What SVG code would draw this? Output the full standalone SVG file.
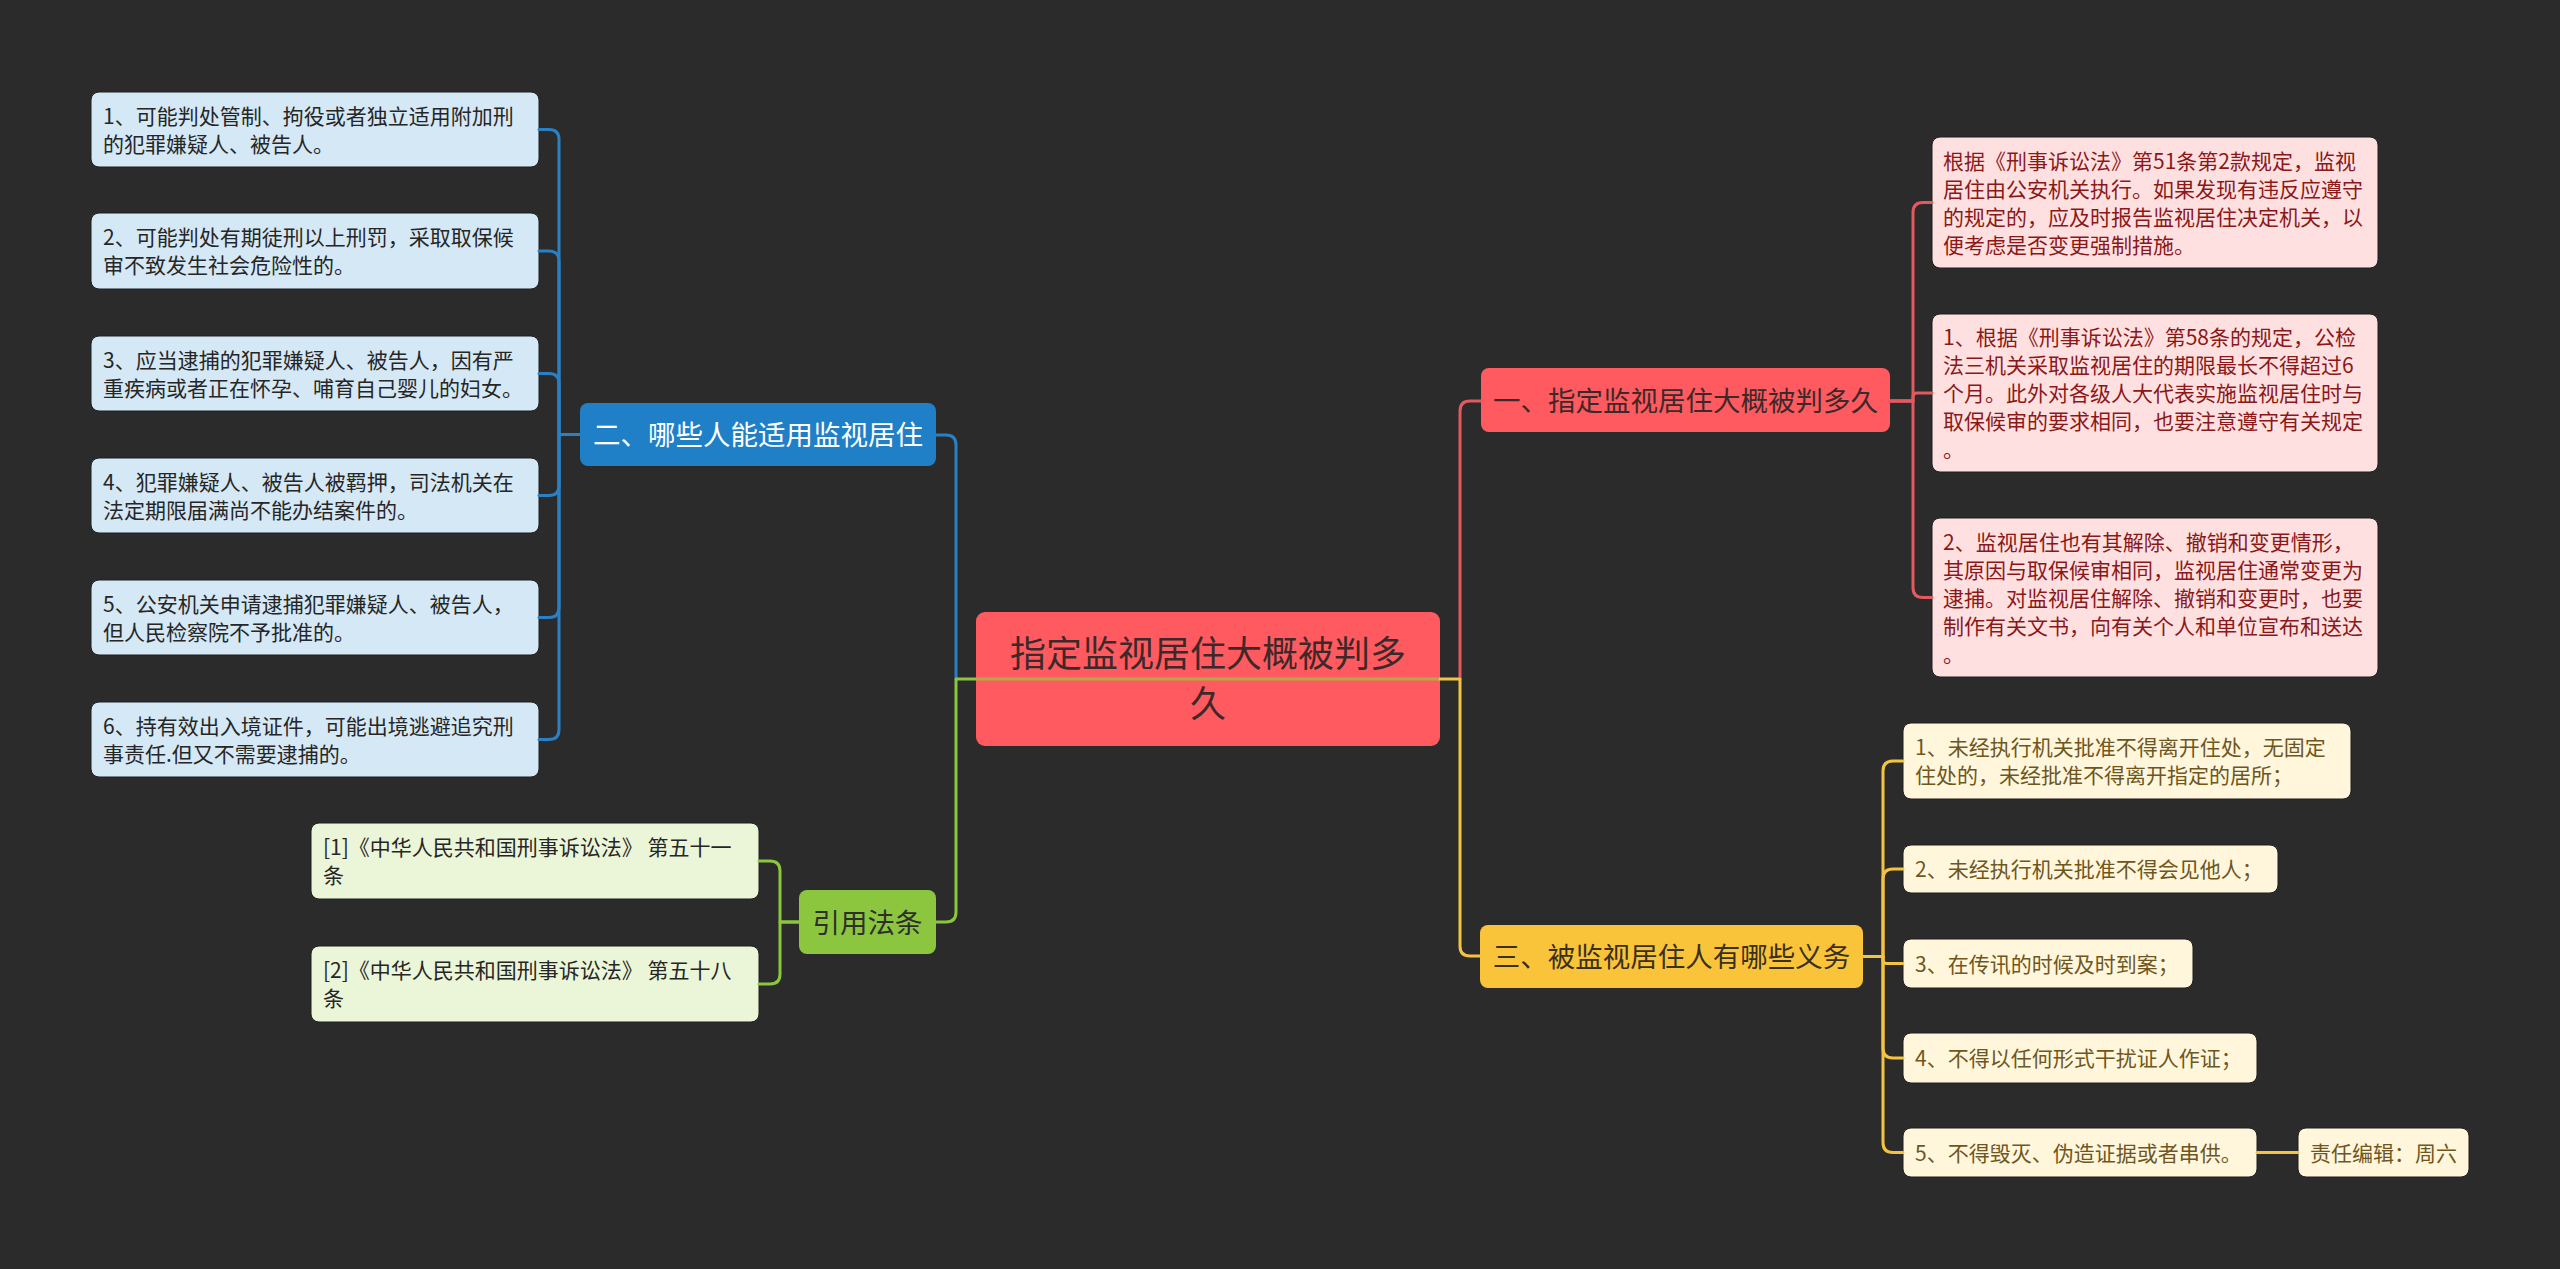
<svg xmlns="http://www.w3.org/2000/svg" width="2560" height="1269" viewBox="0 0 2560 1269">
<style>
text{font-family:"Noto Sans CJK SC","Noto Sans",sans-serif;}
.bg{fill:#2B2B2B;}
.c{fill:none;stroke-width:3;stroke-linecap:round;stroke-linejoin:round;}
.cb{stroke:#2A80C4;}
.cr{stroke:#E2595E;}
.cy{stroke:#F3C343;}
.cg{stroke:#8CC63F;}
.lf{stroke:#1E1E1E;stroke-width:1;}
.lb{fill:#D5E8F5;}
.lr{fill:#FFE0E1;}
.ly{fill:#FFF6DC;}
.lg{fill:#EBF5D8;}
.t{font-size:21px;}
.tb{fill:#262626;}
.tr{fill:#8B1818;}
.ty{fill:#6E561E;}
.tg{fill:#262626;}
.nt{font-size:27.5px;text-anchor:middle;}
</style>
<rect class="bg" x="0" y="0" width="2560" height="1269"/>

<g id="center">
<rect x="976" y="612" width="464" height="134" rx="9" fill="#FF5A5F"/>
<text x="1208" y="667" font-size="36" text-anchor="middle" fill="#3D2929"><tspan x="1208" y="667">指定监视居住大概被判多</tspan><tspan x="1208" y="717">久</tspan></text>
</g>

<g id="node-blue">
<rect x="580" y="403" width="356" height="63" rx="8" fill="#1F80C7"/>
<text class="nt" x="758" y="445" fill="#FFFFFF">二、哪些人能适用监视居住</text>
</g>
<g id="leaf-b1"><rect class="lb lf" x="91" y="92" width="448" height="75" rx="8"/><text class="t tb"><tspan x="103" y="123.5">1、可能判处管制、拘役或者独立适用附加刑</tspan><tspan x="103" y="151.5">的犯罪嫌疑人、被告人。</tspan></text></g>
<g id="leaf-b2"><rect class="lb lf" x="91" y="213" width="448" height="76" rx="8"/><text class="t tb"><tspan x="103" y="245">2、可能判处有期徒刑以上刑罚，采取取保候</tspan><tspan x="103" y="273">审不致发生社会危险性的。</tspan></text></g>
<g id="leaf-b3"><rect class="lb lf" x="91" y="336" width="448" height="75" rx="8"/><text class="t tb"><tspan x="103" y="367.5">3、应当逮捕的犯罪嫌疑人、被告人，因有严</tspan><tspan x="103" y="395.5">重疾病或者正在怀孕、哺育自己婴儿的妇女。</tspan></text></g>
<g id="leaf-b4"><rect class="lb lf" x="91" y="458" width="448" height="75" rx="8"/><text class="t tb"><tspan x="103" y="489.5">4、犯罪嫌疑人、被告人被羁押，司法机关在</tspan><tspan x="103" y="517.5">法定期限届满尚不能办结案件的。</tspan></text></g>
<g id="leaf-b5"><rect class="lb lf" x="91" y="580" width="448" height="75" rx="8"/><text class="t tb"><tspan x="103" y="611.5">5、公安机关申请逮捕犯罪嫌疑人、被告人，</tspan><tspan x="103" y="639.5">但人民检察院不予批准的。</tspan></text></g>
<g id="leaf-b6"><rect class="lb lf" x="91" y="702" width="448" height="75" rx="8"/><text class="t tb"><tspan x="103" y="733.5">6、持有效出入境证件，可能出境逃避追究刑</tspan><tspan x="103" y="761.5">事责任.但又不需要逮捕的。</tspan></text></g>

<g id="node-green">
<rect x="799" y="890" width="137" height="64" rx="8" fill="#8CC63F"/>
<text class="nt" x="867.5" y="932.5" fill="#2E2E2E">引用法条</text>
</g>
<g id="leaf-g1"><rect class="lg lf" x="311" y="823" width="448" height="76" rx="8"/><text class="t tg"><tspan x="323" y="855">[1]《中华人民共和国刑事诉讼法》 第五十一</tspan><tspan x="323" y="883">条</tspan></text></g>
<g id="leaf-g2"><rect class="lg lf" x="311" y="946" width="448" height="76" rx="8"/><text class="t tg"><tspan x="323" y="978">[2]《中华人民共和国刑事诉讼法》 第五十八</tspan><tspan x="323" y="1006">条</tspan></text></g>

<g id="node-red">
<rect x="1481" y="368" width="409" height="64" rx="8" fill="#FF5A5F"/>
<text class="nt" x="1685.5" y="410.5" fill="#3D2929">一、指定监视居住大概被判多久</text>
</g>
<g id="leaf-r1"><rect class="lr lf" x="1932" y="137" width="446" height="131" rx="8"/><text class="t tr"><tspan x="1943" y="168.5">根据《刑事诉讼法》第51条第2款规定，监视</tspan><tspan x="1943" y="196.5">居住由公安机关执行。如果发现有违反应遵守</tspan><tspan x="1943" y="224.5">的规定的，应及时报告监视居住决定机关，以</tspan><tspan x="1943" y="252.5">便考虑是否变更强制措施。</tspan></text></g>
<g id="leaf-r2"><rect class="lr lf" x="1932" y="314" width="446" height="158" rx="8"/><text class="t tr"><tspan x="1943" y="345">1、根据《刑事诉讼法》第58条的规定，公检</tspan><tspan x="1943" y="373">法三机关采取监视居住的期限最长不得超过6</tspan><tspan x="1943" y="401">个月。此外对各级人大代表实施监视居住时与</tspan><tspan x="1943" y="429">取保候审的要求相同，也要注意遵守有关规定</tspan><tspan x="1943" y="457">。</tspan></text></g>
<g id="leaf-r3"><rect class="lr lf" x="1932" y="518" width="446" height="159" rx="8"/><text class="t tr"><tspan x="1943" y="549.5">2、监视居住也有其解除、撤销和变更情形，</tspan><tspan x="1943" y="577.5">其原因与取保候审相同，监视居住通常变更为</tspan><tspan x="1943" y="605.5">逮捕。对监视居住解除、撤销和变更时，也要</tspan><tspan x="1943" y="633.5">制作有关文书，向有关个人和单位宣布和送达</tspan><tspan x="1943" y="661.5">。</tspan></text></g>

<g id="node-yellow">
<rect x="1480" y="925" width="383" height="63" rx="8" fill="#F9C43A"/>
<text class="nt" x="1671.5" y="967" fill="#3A3020">三、被监视居住人有哪些义务</text>
</g>
<g id="leaf-y1"><rect class="ly lf" x="1903" y="723" width="448" height="76" rx="8"/><text class="t ty"><tspan x="1915" y="755">1、未经执行机关批准不得离开住处，无固定</tspan><tspan x="1915" y="783">住处的，未经批准不得离开指定的居所；</tspan></text></g>
<g id="leaf-y2"><rect class="ly lf" x="1903" y="845" width="375" height="48" rx="8"/><text class="t ty" x="1915" y="877">2、未经执行机关批准不得会见他人；</text></g>
<g id="leaf-y3"><rect class="ly lf" x="1903" y="939" width="290" height="49" rx="8"/><text class="t ty" x="1915" y="971.5">3、在传讯的时候及时到案；</text></g>
<g id="leaf-y4"><rect class="ly lf" x="1903" y="1033" width="354" height="50" rx="8"/><text class="t ty" x="1915" y="1066">4、不得以任何形式干扰证人作证；</text></g>
<g id="leaf-y5"><rect class="ly lf" x="1903" y="1128" width="354" height="49" rx="8"/><text class="t ty" x="1915" y="1160.5">5、不得毁灭、伪造证据或者串供。</text></g>
<g id="leaf-y6"><rect class="ly lf" x="2298" y="1128" width="171" height="49" rx="8"/><text class="t ty" x="2310" y="1160.5">责任编辑：周六</text></g>

<g id="connectors">
<path class="c cb" d="M956 679 V445 Q956 435 946 435 H936"/>
<path class="c cb" d="M580 434.5 H559 V139.5 Q559 129.5 549 129.5 H539"/>
<path class="c cb" d="M580 434.5 H559 V261 Q559 251 549 251 H539"/>
<path class="c cb" d="M580 434.5 H559 V383.5 Q559 373.5 549 373.5 H539"/>
<path class="c cb" d="M580 434.5 H559 V485.5 Q559 495.5 549 495.5 H539"/>
<path class="c cb" d="M580 434.5 H559 V607.5 Q559 617.5 549 617.5 H539"/>
<path class="c cb" d="M580 434.5 H559 V729.5 Q559 739.5 549 739.5 H539"/>

<path class="c cg" d="M976 679 H956 V912 Q956 922 946 922 H936"/>
<path class="c cg" d="M799 922 H780 V871 Q780 861 770 861 H759"/>
<path class="c cg" d="M799 922 H780 V974 Q780 984 770 984 H759"/>

<path d="M976 679 H1440" fill="none" stroke="#B4A946" stroke-width="3"/>

<path class="c cr" d="M1460 679 V411 Q1460 401 1470 401 H1481"/>
<path class="c cr" d="M1890 401 H1913 V212.5 Q1913 202.5 1923 202.5 H1932"/>
<path class="c cr" d="M1890 401 H1913 V397 Q1913 393 1917 393 H1932"/>
<path class="c cr" d="M1890 401 H1913 V587.5 Q1913 597.5 1923 597.5 H1932"/>

<path class="c cy" d="M1440 679 H1460 V946 Q1460 956 1470 956 H1480"/>
<path class="c cy" d="M1863 956.5 H1883 V771 Q1883 761 1893 761 H1903"/>
<path class="c cy" d="M1863 956.5 H1883 V879 Q1883 869 1893 869 H1903"/>
<path class="c cy" d="M1863 956.5 H1883 V959.5 Q1883 963.5 1887 963.5 H1903"/>
<path class="c cy" d="M1863 956.5 H1883 V1048 Q1883 1058 1893 1058 H1903"/>
<path class="c cy" d="M1863 956.5 H1883 V1142.5 Q1883 1152.5 1893 1152.5 H1903"/>
<path class="c cy" d="M2257 1152.5 H2298" stroke-width="4"/>
</g>
</svg>
